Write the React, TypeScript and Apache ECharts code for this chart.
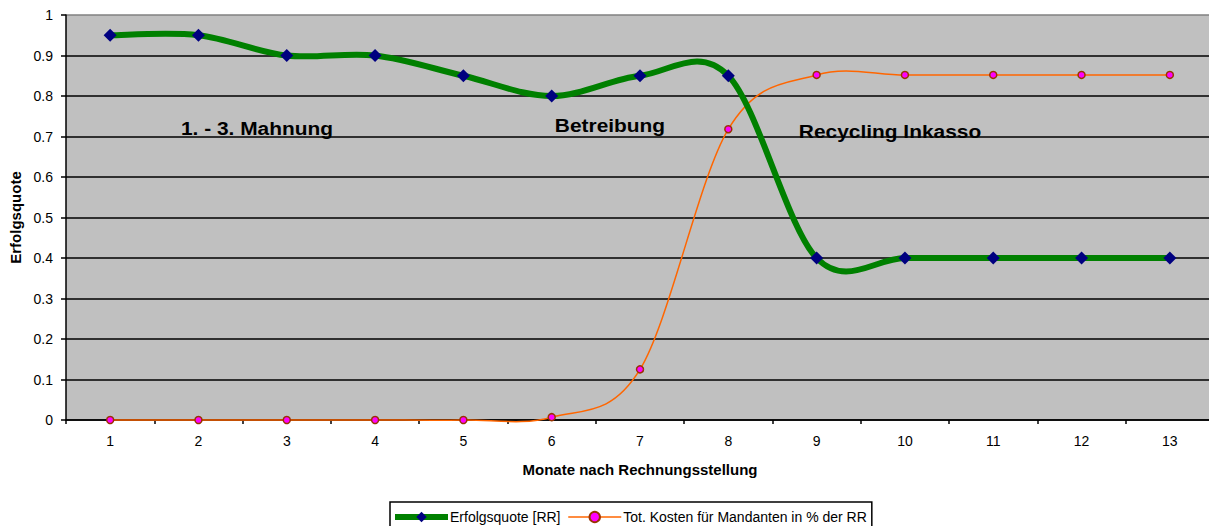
import React, { useEffect, useRef } from "react";
import * as echarts from "echarts";

const months = ["1", "2", "3", "4", "5", "6", "7", "8", "9", "10", "11", "12", "13"];
const erfolgsquote = [0.95, 0.95, 0.9, 0.9, 0.85, 0.8, 0.85, 0.85, 0.4, 0.4, 0.4, 0.4, 0.4];
const kosten = [0, 0, 0, 0, 0, 0.007, 0.125, 0.718, 0.852, 0.852, 0.852, 0.852, 0.852];
const phaseLabels = [
  { text: "1. - 3. Mahnung", x: 257, y: 128 },
  { text: "Betreibung", x: 610, y: 125 },
  { text: "Recycling Inkasso", x: 890, y: 131 },
];
const seriesNames = ["Erfolgsquote [RR]", "Tot. Kosten für Mandanten in % der RR"];

const font = "Arial, 'Liberation Sans', sans-serif";

// Excel-style (Catmull-Rom) smoothed curve drawn through the axis scales
function splineSeries(vals: number[], color: string, width: number, z: number) {
  return {
    type: "custom",
    name: "_curve" + color,
    z,
    silent: true,
    data: vals.map((v, i) => [i, v]),
    encode: { x: 0, y: 1 },
    renderItem: (params: any, api: any) => {
      const i = params.dataIndex;
      if (i >= vals.length - 1) return null;
      const cl = (k: number) => Math.max(0, Math.min(vals.length - 1, k));
      const p = (k: number) => api.coord([cl(k), vals[cl(k)]]);
      const p0 = p(i - 1), p1 = p(i), p2 = p(i + 1), p3 = p(i + 2);
      return {
        type: "bezierCurve",
        shape: {
          x1: p1[0],
          y1: p1[1],
          x2: p2[0],
          y2: p2[1],
          cpx1: p1[0] + (p2[0] - p0[0]) / 6,
          cpy1: p1[1] + (p2[1] - p0[1]) / 6,
          cpx2: p2[0] - (p3[0] - p1[0]) / 6,
          cpy2: p2[1] - (p3[1] - p1[1]) / 6,
        },
        style: { stroke: color, lineWidth: width, fill: "none", lineCap: "round", lineJoin: "round" },
      };
    },
  };
}

export default function App() {
  const ref = useRef<HTMLDivElement>(null);
  useEffect(() => {
    const chart = echarts.init(ref.current!, null, { renderer: "svg" });
    const splitColors = Array.from({ length: 10 }, () => "#000000").concat(["#808080"]);
    chart.setOption({
      animation: false,
      textStyle: { fontFamily: font },
      grid: {
        left: 66,
        top: 15,
        width: 1148,
        height: 405,
        show: true,
        backgroundColor: "#C0C0C0",
        borderWidth: 0,
        outerBoundsMode: "none",
        containLabel: false,
      },
      xAxis: {
        type: "category",
        data: months,
        boundaryGap: true,
        name: "Monate nach Rechnungsstellung",
        nameLocation: "middle",
        nameGap: 42,
        nameTextStyle: { fontWeight: "bold", fontSize: 15, color: "#000", fontFamily: font },
        axisLine: { lineStyle: { color: "#000", width: 1.5 } },
        axisTick: { show: true, length: 4, lineStyle: { color: "#000", width: 1.5 } },
        axisLabel: { color: "#000", fontSize: 14, margin: 14, fontFamily: font },
        splitLine: { show: false },
      },
      yAxis: {
        type: "value",
        min: 0,
        max: 1,
        interval: 0.1,
        name: "Erfolgsquote",
        nameLocation: "middle",
        nameGap: 43,
        nameTextStyle: { fontWeight: "bold", fontSize: 15, color: "#000", fontFamily: font },
        axisLine: { show: true, lineStyle: { color: "#000", width: 1.5 } },
        axisTick: { show: true, length: 5, lineStyle: { color: "#000", width: 1.5 } },
        axisLabel: {
          color: "#000",
          fontSize: 14,
          margin: 13,
          fontFamily: font,
          formatter: (v: number) => String(+v.toFixed(1)),
        },
        splitLine: { show: true, lineStyle: { color: splitColors, width: 1.5 } },
      },
      legend: {
        left: 390,
        top: 502,
        itemGap: 7,
        padding: [8, 5, 8, 2],
        borderColor: "#000",
        borderWidth: 1.5,
        borderRadius: 0,
        textStyle: { fontSize: 14, color: "#000", fontFamily: font, padding: [0, 0, 0, -3] },
        data: [
          { name: seriesNames[0], lineStyle: { color: "#008000", width: 6, opacity: 1 } },
          { name: seriesNames[1], lineStyle: { color: "#FF6600", width: 1.5, opacity: 1 } },
        ],
        itemWidth: 53,
        itemHeight: 13,
      },
      series: [
        splineSeries(kosten, "#FF6600", 1.5, 2),
        splineSeries(erfolgsquote, "#008000", 6, 3),
        {
          name: seriesNames[0],
          type: "line",
          data: erfolgsquote,
          symbol: "diamond",
          symbolSize: 13,
          showAllSymbol: true,
          lineStyle: { color: "#008000", width: 6, opacity: 0 },
          itemStyle: { color: "#000080", borderWidth: 0 },
          z: 5,
        },
        {
          name: seriesNames[1],
          type: "line",
          data: kosten,
          symbol: "circle",
          symbolSize: 7,
          showAllSymbol: true,
          lineStyle: { color: "#FF6600", width: 1.5, opacity: 0 },
          itemStyle: { color: "#FF00FF", borderColor: "#993300", borderWidth: 1.5 },
          z: 6,
        },
      ],
      graphic: phaseLabels.map((p) => ({
        type: "text",
        x: p.x,
        y: p.y,
        scaleX: 1.1,
        z: 10,
        style: {
          text: p.text,
          fontSize: 19,
          fontWeight: "bold",
          fontFamily: font,
          fill: "#000",
          textAlign: "center",
          textVerticalAlign: "middle",
        },
      })),
    });
    return () => chart.dispose();
  }, []);
  return (
    <div
      ref={ref}
      style={{ position: "absolute", left: 0, top: 0, width: 1209, height: 526 }}
    />
  );
}
